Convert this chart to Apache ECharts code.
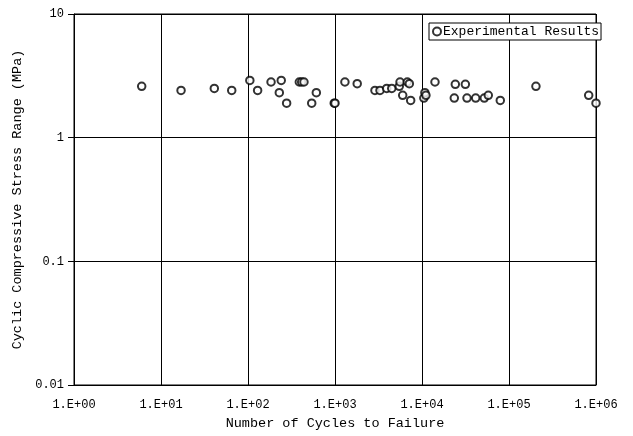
<!DOCTYPE html>
<html>
<head>
<meta charset="utf-8">
<script src="https://cdn.jsdelivr.net/npm/echarts@6/dist/echarts.min.js"></script>
<style>
html,body{margin:0;padding:0;background:#fff;}
#chart{width:633px;height:436px;}
</style>
</head>
<body>
<div id="chart"></div>
<script>
// Data
const cycles = [6.0, 17, 41, 65, 105, 129, 184, 241, 229, 278, 389, 414, 440, 540, 610, 980, 1000,
  1300, 1800, 2880, 3290, 3930, 4490, 5480, 5590, 6780, 7150, 6000, 7410,
  10500, 10800, 11100, 14100, 23500, 24150, 31500, 32900, 41400, 52000, 57800, 79400,
  204000, 824000, 1000000];
const stress = [2.6, 2.41, 2.5, 2.41, 2.9, 2.41, 2.82, 2.9, 2.31, 1.9, 2.82, 2.82, 2.82, 1.9, 2.31, 1.9, 1.9,
  2.82, 2.73, 2.41, 2.41, 2.5, 2.5, 2.6, 2.82, 2.82, 2.73, 2.2, 2.0,
  2.09, 2.31, 2.2, 2.82, 2.09, 2.7, 2.7, 2.09, 2.09, 2.09, 2.2, 2.0,
  2.6, 2.2, 1.9];
const xTickLabels = {1: '1.E+00', 10: '1.E+01', 100: '1.E+02', 1000: '1.E+03', 10000: '1.E+04', 100000: '1.E+05', 1000000: '1.E+06'};
const yTickLabels = {0.01: '0.01', 0.1: '0.1', 1: '1', 10: '10'};
const seriesName = 'Experimental Results';
const xTitle = 'Number of Cycles to Failure';
const yTitle = 'Cyclic Compressive Stress Range (MPa)';

const font = 'Liberation Mono';
const chart = echarts.init(document.getElementById('chart'), null, {renderer: 'canvas'});
function lookup(map, v) {
  for (const k in map) { if (Math.abs(Math.log10(+k) - Math.log10(v)) < 1e-6) return map[k]; }
  return '';
}
chart.setOption({
  animation: false,
  backgroundColor: '#fff',
  grid: {left: 74, right: 37, top: 14, bottom: 51, show: true, borderColor: '#000', borderWidth: 1, backgroundColor: 'transparent'},
  legend: {
    show: true, left: 429, top: 23, padding: [2, 2, 2, 3],
    backgroundColor: '#fff', borderColor: '#000', borderWidth: 1, borderRadius: 0,
    itemWidth: 8, itemHeight: 8, itemGap: 0,
    textStyle: {fontFamily: font, fontSize: 13, color: '#000', padding: [0, 0, 0, -3]},
    data: [{name: seriesName, icon: 'emptyCircle'}]
  },
  xAxis: {
    type: 'log', logBase: 10, min: 1, max: 1000000,
    name: xTitle, nameLocation: 'middle', nameGap: 31,
    nameTextStyle: {fontFamily: font, fontSize: 13.5, color: '#000'},
    axisLine: {show: true, lineStyle: {color: '#000', width: 1}},
    axisTick: {show: false},
    axisLabel: {fontFamily: font, fontSize: 12, color: '#000', margin: 14, formatter: v => lookup(xTickLabels, v)},
    splitLine: {show: true, lineStyle: {color: '#000', width: 1}},
    minorTick: {show: false}, minorSplitLine: {show: false}
  },
  yAxis: {
    type: 'log', logBase: 10, min: 0.01, max: 10,
    name: yTitle, nameLocation: 'middle', nameGap: 49, nameRotate: 90,
    nameTextStyle: {fontFamily: font, fontSize: 13.5, color: '#000'},
    axisLine: {show: true, lineStyle: {color: '#000', width: 1}},
    axisTick: {show: true, inside: false, length: 6, lineStyle: {color: '#000'}},
    axisLabel: {fontFamily: font, fontSize: 12, color: '#000', margin: 10, formatter: v => lookup(yTickLabels, v)},
    splitLine: {show: true, lineStyle: {color: '#000', width: 1}},
    minorTick: {show: false}, minorSplitLine: {show: false}
  },
  series: [{
    name: seriesName,
    type: 'scatter',
    symbol: 'emptyCircle',
    symbolSize: 7.5,
    itemStyle: {color: '#000', borderColor: '#000', borderWidth: 1.5},
    data: cycles.map((c, i) => [c, stress[i]])
  }]
});
</script>
</body>
</html>
